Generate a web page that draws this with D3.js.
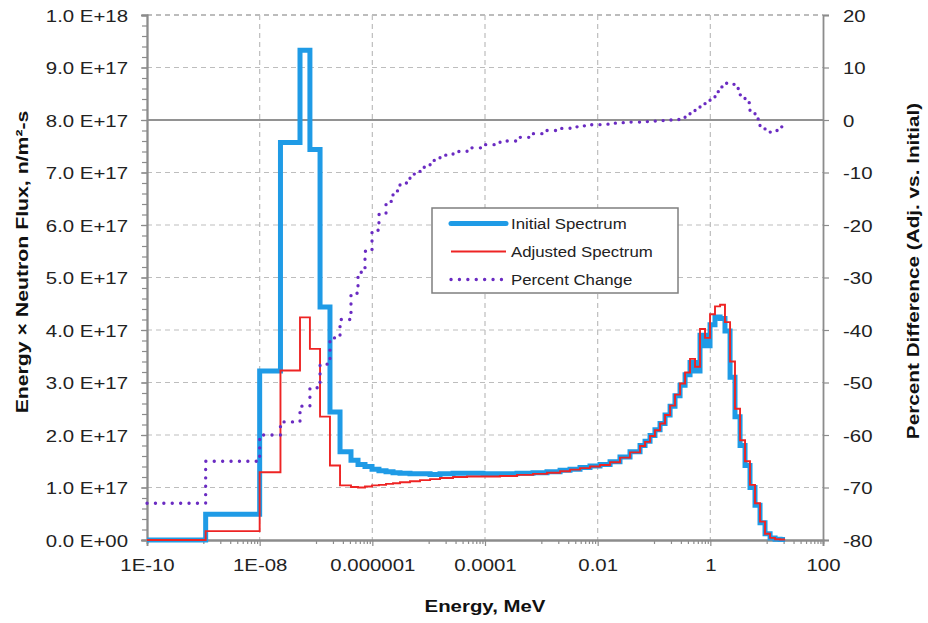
<!DOCTYPE html>
<html>
<head>
<meta charset="utf-8">
<script src="https://cdn.jsdelivr.net/npm/d3@7"></script>
<style>
  body { margin: 0; background: #fff; }
  svg { font-family: Arial, "Liberation Sans", sans-serif; }
</style>
</head>
<body>
<svg id="chart" width="928" height="623"></svg>
<script>
// ===== DATA =====
// bin lower edges in MeV (last entry closes the final bin)
const energyEdges = [
  1e-10, 1.1e-9, 1e-8, 2.34e-8, 5.2e-8, 7.8e-8, 1.18e-7, 1.77e-7, 2.67e-7, 4.18e-7,
  5.57e-7, 7.41e-7, 9.87e-7, 1.31e-6, 1.75e-6, 2.33e-6, 3.10e-6, 4.66e-6, 7.02e-6, 1.06e-5,
  1.59e-5, 2.71e-5, 4.80e-5, 9.22e-5, 1.85e-4, 3.70e-4, 7.11e-4, 1.26e-3, 2.15e-3, 3.23e-3,
  4.86e-3, 7.31e-3, 1.10e-2, 1.66e-2, 2.49e-2, 3.75e-2, 5.65e-2, 6.93e-2, 8.50e-2, 0.104,
  0.128, 0.157, 0.193, 0.236, 0.290, 0.356, 0.436, 0.535, 0.656, 0.805,
  0.988, 1.21, 1.49, 1.82, 2.24, 2.74, 3.37, 4.13, 5.06, 6.21,
  7.62, 9.35, 11.5, 14.1, 17.3, 21.2
];

// energy x flux per bin, in units of 1E+17 n/m2-s
const initialFlux = [
  0, 0.49, 3.22, 7.57, 9.33, 7.44, 4.44, 2.44, 1.68, 1.52,
  1.44, 1.40, 1.35, 1.32, 1.30, 1.28, 1.27, 1.26, 1.26, 1.25,
  1.26, 1.27, 1.27, 1.26, 1.26, 1.27, 1.28, 1.30, 1.33, 1.35,
  1.38, 1.41, 1.44, 1.49, 1.58, 1.68, 1.80, 1.88, 1.99, 2.10,
  2.22, 2.38, 2.55, 2.75, 2.95, 3.15, 3.38, 3.22, 3.90, 3.70,
  4.10, 4.25, 4.22, 3.98, 3.10, 2.35, 1.80, 1.42, 1.00, 0.66,
  0.33, 0.12, 0.04, 0.015, 0.01
];
const adjustedFlux = [
  0, 0.17, 1.29, 3.23, 4.24, 3.64, 2.35, 1.42, 1.04, 1.01,
  1.00, 1.02, 1.04, 1.05, 1.07, 1.08, 1.10, 1.12, 1.14, 1.16,
  1.18, 1.20, 1.21, 1.21, 1.22, 1.24, 1.26, 1.28, 1.31, 1.34,
  1.37, 1.40, 1.43, 1.48, 1.57, 1.67, 1.79, 1.87, 1.98, 2.09,
  2.22, 2.38, 2.56, 2.77, 2.98, 3.19, 3.45, 3.30, 4.02, 3.85,
  4.30, 4.45, 4.48, 4.15, 3.40, 2.50, 1.90, 1.50, 1.05, 0.70,
  0.35, 0.12, 0.04, 0.015, 0.01
];
// percent difference (adjusted vs. initial) per bin
const percentChange = [
  -73, -65, -60, -57.5, -54.5, -51, -46.5, -41.5, -38, -33,
  -29, -25, -21, -18, -15.5, -13.5, -12, -10.3, -9, -7.7,
  -6.7, -6, -5.3, -4.7, -4, -3.3, -2.6, -2, -1.6, -1.3,
  -1.1, -0.9, -0.8, -0.6, -0.5, -0.4, -0.3, -0.3, -0.2, -0.2,
  -0.1, -0.1, 0.0, 0.1, 0.3, 0.8, 1.3, 1.9, 2.6, 3.4,
  4.4, 5.4, 6.3, 7.0, 6.8, 6.0, 4.8, 3.3, 1.8, 0.2,
  -1.2, -2.0, -2.3, -2.0, -1.3
];

const xTickValues = [1e-10, 1e-8, 1e-6, 1e-4, 1e-2, 1, 100];
const xTickLabels = ['1E-10', '1E-08', '0.000001', '0.0001', '0.01', '1', '100'];
const fluxTicks = [0, 1, 2, 3, 4, 5, 6, 7, 8, 9, 10];
const pctTicks = [20, 10, 0, -10, -20, -30, -40, -50, -60, -70, -80];
const legendLabels = ['Initial Spectrum', 'Adjusted Spectrum', 'Percent Change'];

// ===== LAYOUT =====
const W = 928, H = 623;
const margin = { top: 15, right: 105, bottom: 83, left: 147 };
const iw = W - margin.left - margin.right;
const ih = H - margin.top - margin.bottom;

const COLORS = { initial: '#1f9be6', adjusted: '#ee2424', pct: '#6a2bc2', axis: '#8c8c8c', grid: '#bdbdbd', text: '#222' };
const SX = 1.2; // horizontal stretch of the text in the source image

const svg = d3.select('#chart');
const g = svg.append('g').attr('transform', `translate(${margin.left},${margin.top})`);

const x = d3.scaleLog().domain([1e-10, 100]).range([0, iw]);
const y = d3.scaleLinear().domain([0, 10]).range([ih, 0]);
const yR = d3.scaleLinear().domain([-80, 20]).range([ih, 0]);

// ===== GRID =====
g.append('g').selectAll('line')
  .data(fluxTicks.filter(d => d > 0 && d !== 8))
  .join('line')
  .attr('x1', 0).attr('x2', iw)
  .attr('y1', d => y(d)).attr('y2', d => y(d))
  .attr('stroke', d => d === 10 ? '#7a7a7a' : COLORS.grid)
  .attr('stroke-width', 1.2)
  .attr('stroke-dasharray', '5,4');

g.append('g').selectAll('line')
  .data(xTickValues.slice(1, -1))
  .join('line')
  .attr('x1', d => x(d)).attr('x2', d => x(d))
  .attr('y1', 0).attr('y2', ih)
  .attr('stroke', COLORS.grid)
  .attr('stroke-width', 1.2)
  .attr('stroke-dasharray', '5,4');

// zero line of the percent axis
g.append('line')
  .attr('x1', 0).attr('x2', iw)
  .attr('y1', yR(0)).attr('y2', yR(0))
  .attr('stroke', '#6e6e6e')
  .attr('stroke-width', 1.6);

// ===== AXES =====
function fluxLabel(d) {
  if (d === 0) return '0.0 E+00';
  const v = d * 1e17;
  const exp = Math.floor(Math.log10(v));
  const mant = v / Math.pow(10, exp);
  return `${mant.toFixed(1)} E+${String(exp).padStart(2, '0')}`;
}

function styleAxis(sel) {
  sel.select('.domain').attr('stroke', COLORS.axis).attr('stroke-width', 1.8);
  sel.selectAll('.tick line').attr('stroke', COLORS.axis).attr('stroke-width', 1.2);
}

// minor ticks first
const xMinor = [];
for (let n = -10; n < 2; n += 2) {
  for (let j = 1; j <= 9; j++) xMinor.push(j * Math.pow(10, n + 1));
}
g.append('g')
  .attr('transform', `translate(0,${ih})`)
  .call(d3.axisBottom(x).tickValues(xMinor).tickSize(4).tickFormat(''))
  .call(styleAxis);

g.append('g')
  .call(d3.axisLeft(y).tickValues(d3.range(0, 10.01, 0.2)).tickSize(5).tickFormat(''))
  .call(styleAxis);

const xAxis = g.append('g')
  .attr('transform', `translate(0,${ih})`)
  .call(d3.axisBottom(x).tickValues(xTickValues).tickSize(6)
    .tickFormat((d, i) => xTickLabels[i]))
  .call(styleAxis);
xAxis.selectAll('.tick text')
  .attr('y', 0).attr('dy', 0)
  .attr('transform', `translate(0,31) scale(${SX},1)`);

const yAxis = g.append('g')
  .call(d3.axisLeft(y).tickValues(fluxTicks).tickSize(6).tickFormat(fluxLabel))
  .call(styleAxis);
yAxis.selectAll('.tick text')
  .attr('x', 0).attr('dy', 0)
  .attr('transform', `translate(-19,6) scale(${SX},1)`);

const yAxisR = g.append('g')
  .attr('transform', `translate(${iw},0)`)
  .call(d3.axisRight(yR).tickValues(pctTicks).tickSize(6).tickFormat(d => String(d)))
  .call(styleAxis);
yAxisR.selectAll('.tick text')
  .attr('x', 0).attr('dy', 0)
  .attr('transform', `translate(20,6) scale(${SX},1)`);

svg.selectAll('.tick text')
  .attr('font-size', 17)
  .attr('fill', COLORS.text)
  .attr('font-family', 'Arial, "Liberation Sans", sans-serif');

// ===== SERIES =====
function stepPoints(vals) {
  const n = vals.length;
  return energyEdges.map((e, i) => ({ e, v: vals[Math.min(i, n - 1)] }));
}

const fluxLine = d3.line().curve(d3.curveStepAfter)
  .x(d => x(d.e)).y(d => y(d.v));
const pctLine = d3.line().curve(d3.curveStepAfter)
  .x(d => x(d.e)).y(d => yR(d.v));

g.append('path')
  .datum(stepPoints(initialFlux))
  .attr('d', fluxLine)
  .attr('fill', 'none')
  .attr('stroke', COLORS.initial)
  .attr('stroke-width', 5);

g.append('path')
  .datum(stepPoints(adjustedFlux))
  .attr('d', fluxLine)
  .attr('fill', 'none')
  .attr('stroke', COLORS.adjusted)
  .attr('stroke-width', 1.9);

g.append('path')
  .datum(stepPoints(percentChange))
  .attr('d', pctLine)
  .attr('fill', 'none')
  .attr('stroke', COLORS.pct)
  .attr('stroke-width', 3.3)
  .attr('stroke-linecap', 'round')
  .attr('stroke-dasharray', '0.1,8.3');

// ===== LEGEND =====
const lg = svg.append('g').attr('transform', 'translate(432,208)');
lg.append('rect')
  .attr('width', 246).attr('height', 85)
  .attr('fill', '#fff')
  .attr('stroke', '#7f7f7f')
  .attr('stroke-width', 1.5);

const legendStyles = [
  { color: COLORS.initial, width: 5, dash: null, cap: 'round' },
  { color: COLORS.adjusted, width: 1.9, dash: null, cap: 'butt' },
  { color: COLORS.pct, width: 3.3, dash: '0.1,8.3', cap: 'round' },
];

legendLabels.forEach((label, i) => {
  const ly = 15.5 + i * 28;
  const s = legendStyles[i];
  lg.append('line')
    .attr('x1', 19).attr('x2', 74)
    .attr('y1', ly).attr('y2', ly)
    .attr('stroke', s.color)
    .attr('stroke-width', s.width)
    .attr('stroke-linecap', s.cap)
    .attr('stroke-dasharray', s.dash);
  lg.append('text')
    .attr('transform', `translate(79,${ly + 5.5}) scale(1.12,1)`)
    .attr('font-size', 15)
    .attr('fill', COLORS.text)
    .text(label);
});

// ===== AXIS TITLES =====
svg.append('text')
  .attr('transform', `translate(485,612) scale(${SX},1)`)
  .attr('text-anchor', 'middle')
  .attr('font-size', 17)
  .attr('font-weight', 'bold')
  .attr('fill', '#111')
  .text('Energy, MeV');

svg.append('text')
  .attr('transform', `translate(28,262) rotate(-90) scale(1.25,1)`)
  .attr('text-anchor', 'middle')
  .attr('font-size', 17)
  .attr('font-weight', 'bold')
  .attr('fill', '#111')
  .text('Energy × Neutron Flux, n/m²-s');

svg.append('text')
  .attr('transform', `translate(919,271) rotate(-90) scale(1.22,1)`)
  .attr('text-anchor', 'middle')
  .attr('font-size', 17)
  .attr('font-weight', 'bold')
  .attr('fill', '#111')
  .text('Percent Difference (Adj. vs. Initial)');
</script>
</body>
</html>
